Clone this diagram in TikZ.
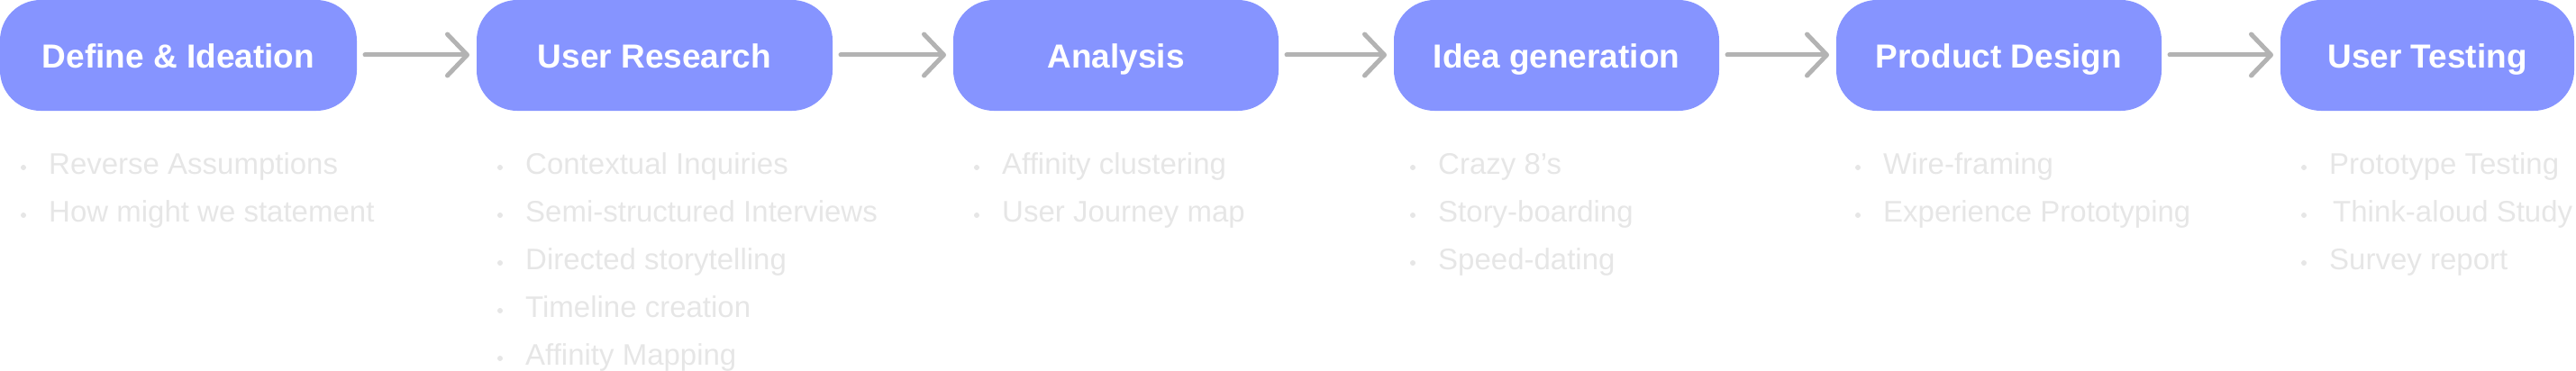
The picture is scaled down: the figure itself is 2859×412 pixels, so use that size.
\documentclass[tikz,border=0pt]{standalone}
\usepackage{fontspec}
\setmainfont{Liberation Sans}
\usetikzlibrary{arrows.meta}
\definecolor{boxblue}{HTML}{8694FF}
\definecolor{arrgray}{HTML}{B3B3B3}
\definecolor{itemgray}{HTML}{E6E6E6}
\begin{document}
\begin{tikzpicture}[x=1pt,y=-1pt,
  title/.style={text=white,font=\fontsize{37}{40}\selectfont\bfseries,anchor=base,inner sep=0pt},
  conn/.style={draw=arrgray,line width=5pt,line cap=round,-{Straight Barb[length=22pt,width=46pt,line width=5pt,round]}},
  item/.style={text=itemgray,font=\fontsize{33}{38}\selectfont,anchor=base west,inner sep=0pt}]
\useasboundingbox (0,0) rectangle (2859,412);
\newcommand\stagebox[4]{%
  \fill[boxblue,rounded corners=45pt] (#1,0) rectangle (#2,123);
  \node[title] (#3) at ({(#1+#2)/2},76) {#4};
  \coordinate (#3-w) at (#1,61); \coordinate (#3-e) at (#2,61);}
\stagebox{0}{396}{s1}{Define \& Ideation}
\stagebox{529}{924}{s2}{User Research}
\stagebox{1058}{1419}{s3}{Analysis}
\stagebox{1547}{1908}{s4}{Idea generation}
\stagebox{2038}{2399}{s5}{Product Design}
\stagebox{2531}{2857}{s6}{User Testing}
\foreach \a/\b in {s1/s2,s2/s3,s3/s4,s4/s5,s5/s6}{
  \draw[conn] ([xshift=9pt]\a-e) -- ([xshift=-8pt]\b-w);
}
\newcommand\items[2]{%
  \foreach \t [count=\i] in {#2}{
    \fill[itemgray] ({#1-28},{186+(\i-1)*53}) circle (3pt);
    \node[item] (it-#1-\i) at (#1,{193+(\i-1)*53}) {\t};
  }}
\items{54}{Reverse Assumptions,How might we statement}
\items{583}{Contextual Inquiries,Semi-structured Interviews,Directed storytelling,Timeline creation,Affinity Mapping}
\items{1112}{Affinity clustering,User Journey map}
\items{1596}{Crazy 8’s,Story-boarding,Speed-dating}
\items{2090}{Wire-framing,Experience Prototyping}
\items{2585}{Prototype Testing,\hspace{4pt}Think-aloud Study,Survey report}
\end{tikzpicture}
\end{document}
